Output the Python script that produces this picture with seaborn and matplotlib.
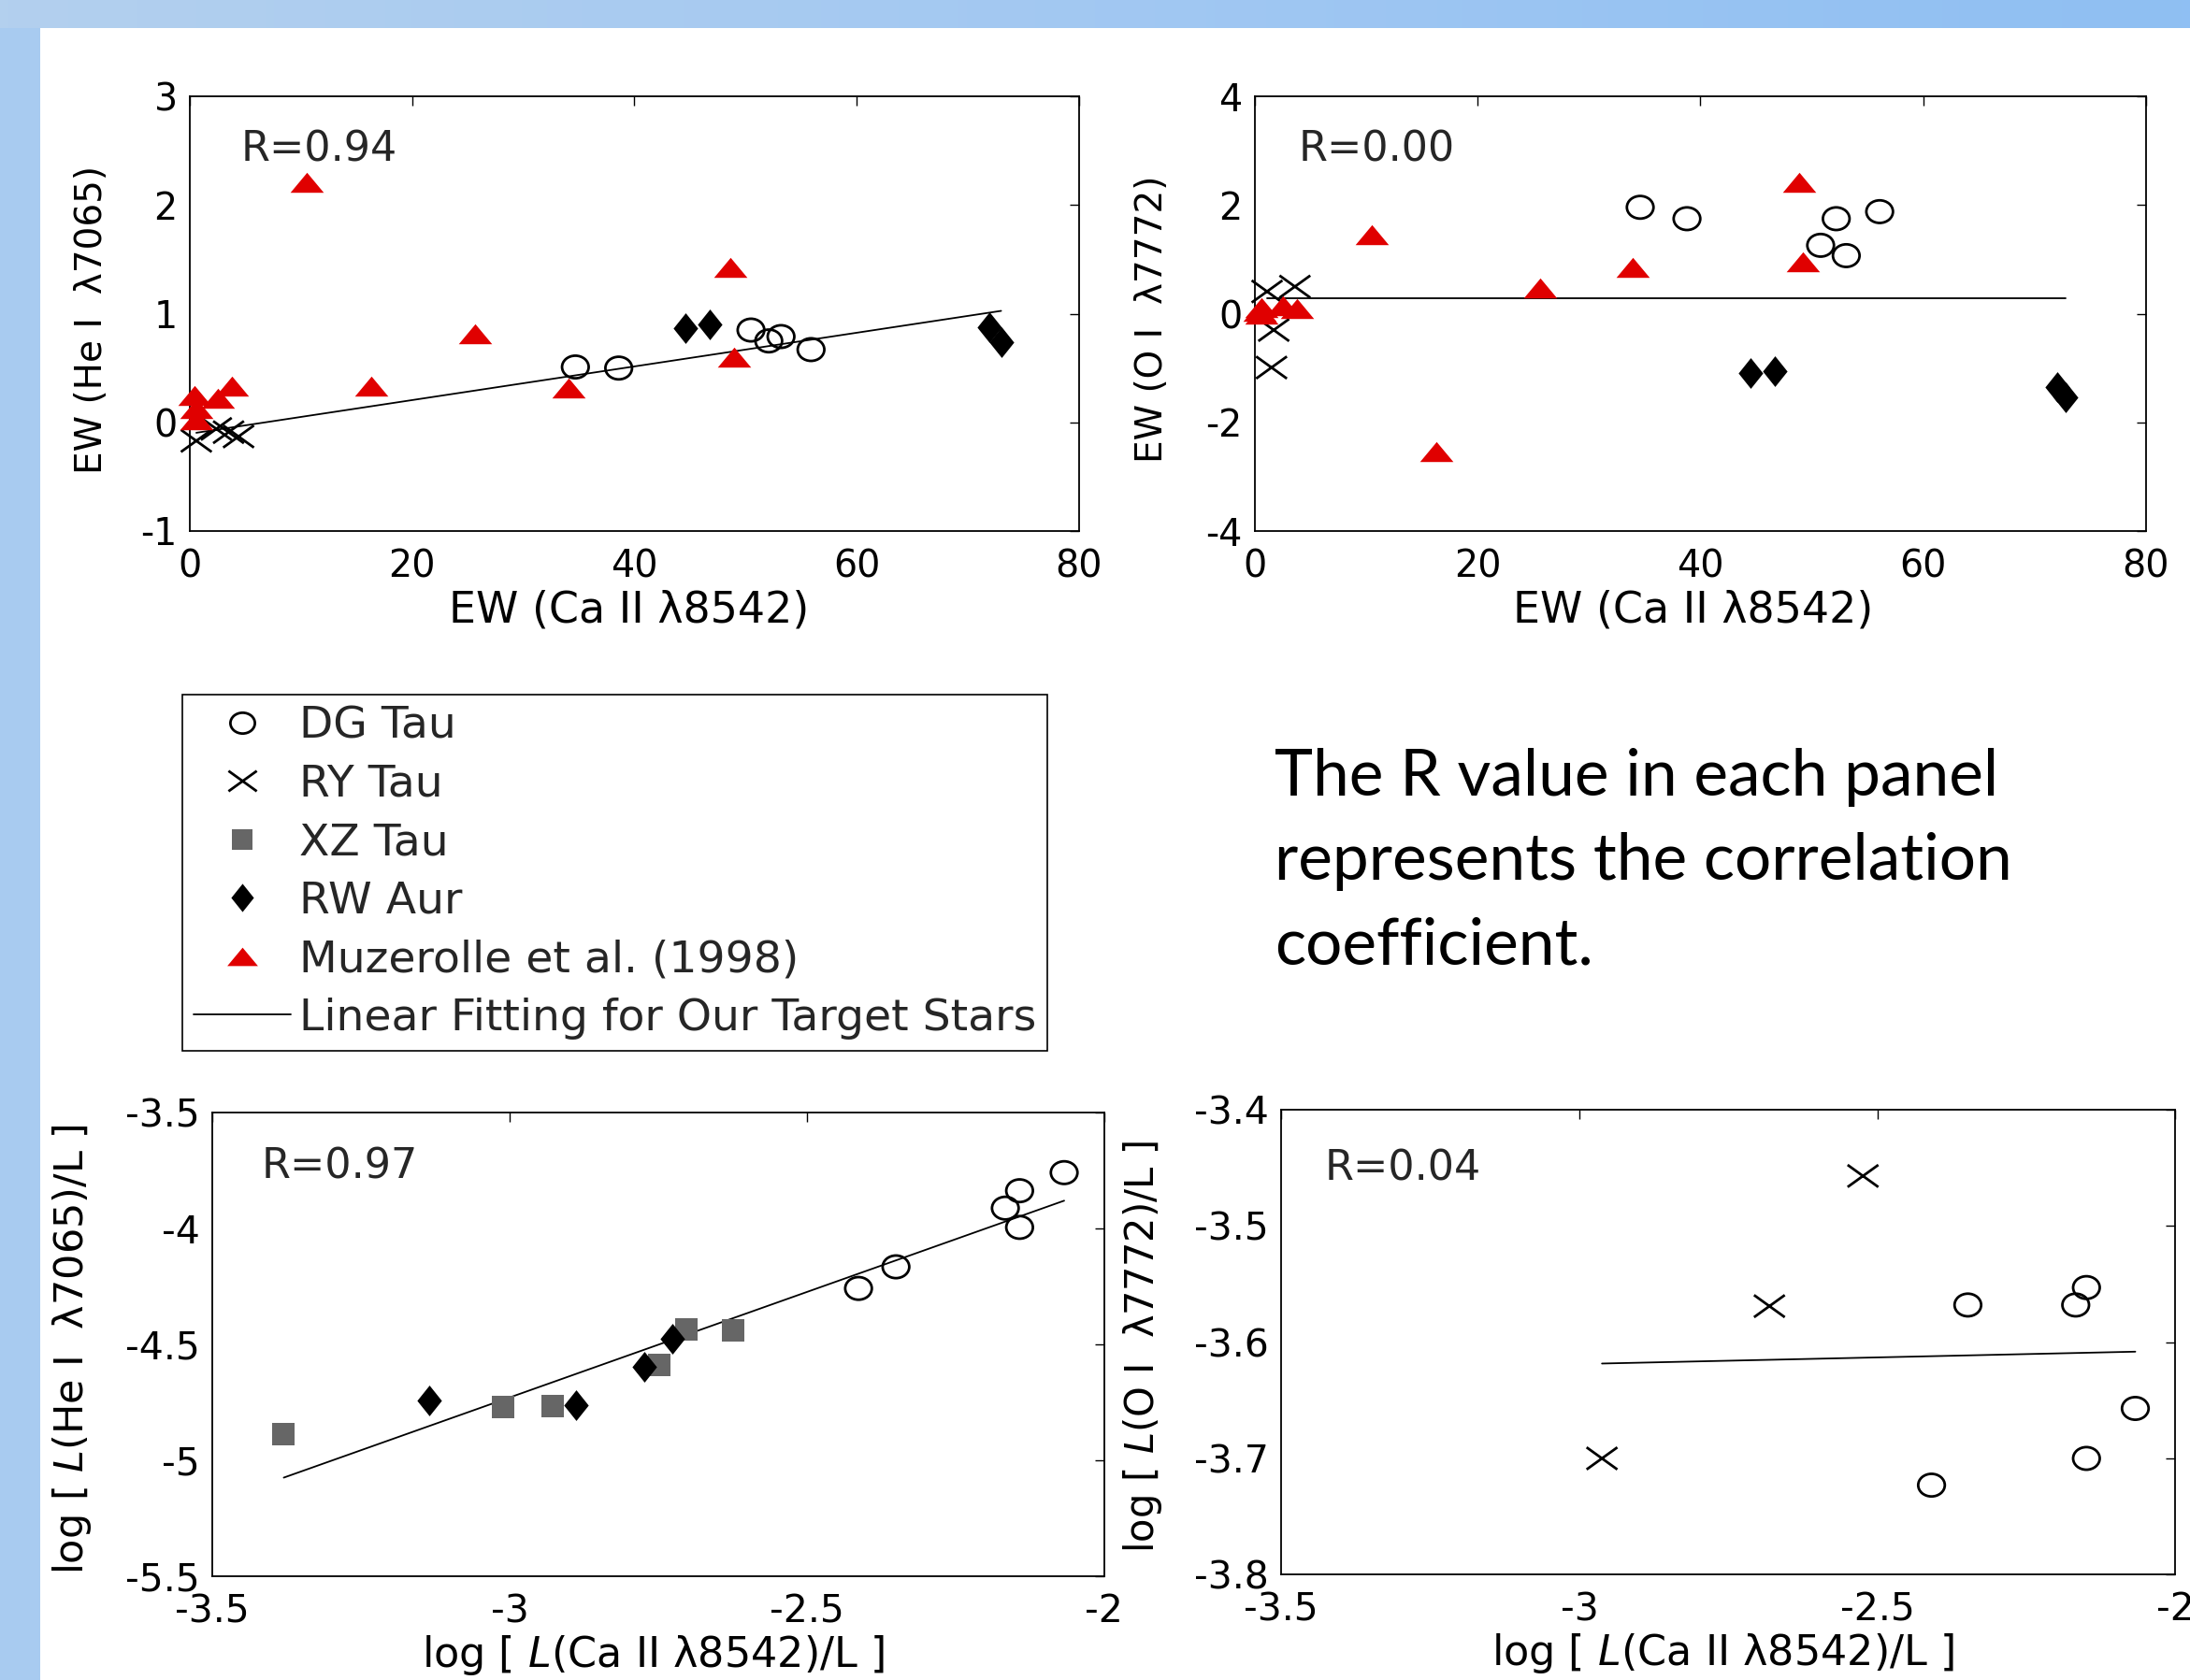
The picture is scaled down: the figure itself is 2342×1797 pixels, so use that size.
import numpy as np
import pandas as pd
import matplotlib.pyplot as plt
import seaborn as sns
from matplotlib.lines import Line2D
from matplotlib.path import Path

# ---- values ----
DG, RY, XZ, RW, MZ = "DG Tau", "RY Tau", "XZ Tau", "RW Aur", "Muzerolle et al. (1998)"

# panel 1: EW(He I 7065) vs EW(Ca II 8542)
p1_dg_x = [34.7, 38.6, 50.5, 52.1, 53.2, 55.9]
p1_dg_y = [0.51, 0.50, 0.85, 0.75, 0.79, 0.67]
p1_ry_x = [0.6, 2.4, 3.5, 4.4]
p1_ry_y = [-0.17, -0.06, -0.09, -0.13]
p1_rw_x = [44.6, 46.8, 71.9, 73.0]
p1_rw_y = [0.87, 0.90, 0.88, 0.74]
p1_mz_x = [0.4, 0.6, 0.6, 2.5, 3.8, 10.5, 16.3, 25.7, 34.1, 48.6, 49.0]
p1_mz_y = [0.25, 0.13, 0.02, 0.22, 0.33, 2.21, 0.33, 0.82, 0.32, 1.43, 0.60]
p1_fit = [0.0155, -0.105]

# panel 2: EW(O I 7772) vs EW(Ca II 8542)
p2_dg_x = [34.6, 38.8, 50.8, 52.2, 53.1, 56.1]
p2_dg_y = [1.96, 1.75, 1.26, 1.75, 1.07, 1.88]
p2_ry_x = [1.1, 1.5, 1.7, 3.6]
p2_ry_y = [0.41, -0.99, -0.30, 0.50]
p2_rw_x = [44.5, 46.7, 72.0, 72.8]
p2_rw_y = [-1.09, -1.05, -1.35, -1.54]
p2_mz_x = [0.4, 0.6, 0.6, 2.5, 3.8, 10.5, 16.3, 25.6, 33.9, 48.9, 49.2]
p2_mz_y = [0.05, 0.12, 0.00, 0.15, 0.10, 1.45, -2.54, 0.48, 0.85, 2.42, 0.96]
p2_fit = [0.0, 0.29]

# panel 3: log L(He I 7065) vs log L(Ca II 8542)
p3_dg_x = [-2.067, -2.142, -2.166, -2.142, -2.350, -2.413]
p3_dg_y = [-3.759, -3.837, -3.912, -3.995, -4.165, -4.258]
p3_xz_x = [-3.380, -3.011, -2.927, -2.748, -2.702, -2.624]
p3_xz_y = [-4.885, -4.768, -4.765, -4.586, -4.436, -4.439]
p3_rw_x = [-3.135, -2.888, -2.774, -2.726]
p3_rw_y = [-4.740, -4.763, -4.594, -4.474]
p3_fit = [0.909, -2.001]

# panel 4: log L(O I 7772) vs log L(Ca II 8542)
p4_dg_x = [-2.067, -2.149, -2.167, -2.149, -2.348, -2.409]
p4_dg_y = [-3.657, -3.553, -3.568, -3.700, -3.568, -3.723]
p4_ry_x = [-2.962, -2.681, -2.524]
p4_ry_y = [-3.700, -3.569, -3.457]
p4_fit = [0.0114, -3.5846]

r_values = ["R=0.94", "R=0.00", "R=0.97", "R=0.04"]

ew_ticks = [0, 20, 40, 60, 80]
p1_yticks = [-1, 0, 1, 2, 3]
p2_yticks = [-4, -2, 0, 2, 4]
log_xticks = [-3.5, -3.0, -2.5, -2.0]
log_xlabels = ["-3.5", "-3", "-2.5", "-2"]
p3_yticks = [-5.5, -5.0, -4.5, -4.0, -3.5]
p3_ylabels = ["-5.5", "-5", "-4.5", "-4", "-3.5"]
p4_yticks = [-3.8, -3.7, -3.6, -3.5, -3.4]
p4_ylabels = ["-3.8", "-3.7", "-3.6", "-3.5", "-3.4"]

note_lines = ["The R value in each panel", "represents the correlation", "coefficient."]


def frame(series):
    return pd.concat([pd.DataFrame({"x": x, "y": y, "star": s}) for s, x, y in series],
                     ignore_index=True)


panels = [
    frame([(DG, p1_dg_x, p1_dg_y), (RY, p1_ry_x, p1_ry_y), (RW, p1_rw_x, p1_rw_y), (MZ, p1_mz_x, p1_mz_y)]),
    frame([(DG, p2_dg_x, p2_dg_y), (RY, p2_ry_x, p2_ry_y), (RW, p2_rw_x, p2_rw_y), (MZ, p2_mz_x, p2_mz_y)]),
    frame([(DG, p3_dg_x, p3_dg_y), (XZ, p3_xz_x, p3_xz_y), (RW, p3_rw_x, p3_rw_y)]),
    frame([(DG, p4_dg_x, p4_dg_y), (RY, p4_ry_x, p4_ry_y)]),
]
fits = [p1_fit, p2_fit, p3_fit, p4_fit]

# ---- style ----
sns.set_theme(style="white")
plt.rcParams.update({
    "font.family": ["DejaVu Sans"],
    "axes.unicode_minus": False,
    "mathtext.fontset": "dejavusans",
    "axes.edgecolor": "black",
    "axes.linewidth": 1.3,
})

# marker shapes (the original figure is a bit stretched sideways)
circ = Path.unit_circle()
ring = Path(circ.vertices * [1.0, 0.85], circ.codes)
cross = Path([(-1, -0.72), (1, 0.72), (-1, 0.72), (1, -0.72)],
             [Path.MOVETO, Path.LINETO, Path.MOVETO, Path.LINETO])
tri = np.array([(-1, -0.6), (1, -0.6), (0, 0.6), (-1, -0.6)])
diam = np.array([(0, 1), (-0.8, 0), (0, -1), (0.8, 0), (0, 1)])

styles = {
    DG: dict(marker=ring, s=420, facecolor="none", edgecolor="black", linewidth=2.0),
    RY: dict(marker=cross, s=560, facecolor="none", edgecolor="black", linewidth=2.0),
    XZ: dict(marker="s", s=300, color="#666666", edgecolor="#666666", linewidth=0),
    RW: dict(marker=diam, s=560, color="black", edgecolor="black", linewidth=0),
    MZ: dict(marker=tri, s=660, color="#e00000", edgecolor="#e00000", linewidth=0),
}

W, H = 2342, 1797
fig = plt.figure(figsize=(W / 100, H / 100), dpi=100)
fig.patch.set_facecolor("white")

# blue slide border (top and left)
top = fig.add_axes([0, 1 - 30 / H, 1, 30 / H])
top.imshow(np.linspace(0, 1, 256)[None, :], aspect="auto",
           cmap=sns.blend_palette(["#b3d0ee", "#a2c8f2", "#8fbff3"], as_cmap=True))
top.axis("off")
left = fig.add_axes([0, 0, 43 / W, 1 - 30 / H])
left.set_facecolor("#a8cbf0")
left.set_xticks([])
left.set_yticks([])
for sp in left.spines.values():
    sp.set_visible(False)

# axes boxes in figure pixels: left, right, top, bottom
boxes = [(202.8, 1153.8, 103.2, 568.0), (1341.9, 2294.8, 103.2, 568.0),
         (227.2, 1180.6, 1190.0, 1686.4), (1370.3, 2326.2, 1187.0, 1684.3)]
axes = [fig.add_axes([l / W, 1 - b / H, (r - l) / W, (b - t) / H]) for l, r, t, b in boxes]

ew_x = "EW (Ca II λ8542)"
log_x = r"log [ $\mathit{L}$(Ca II λ8542)/L ]"
settings = [
    dict(xlim=(0, 80), ylim=(-1, 3), xt=ew_ticks, xl=None, yt=p1_yticks, yl=None,
         xlabel=ew_x, ylabel="EW (He I  λ7065)", lx=(0.494, -0.135), ly=(-0.090, 0.487),
         tsize=28.5, xsize=33, ysize=28, rpos=(0.058, 0.878)),
    dict(xlim=(0, 80), ylim=(-4, 4), xt=ew_ticks, xl=None, yt=p2_yticks, yl=None,
         xlabel=ew_x, ylabel="EW (O I  λ7772)", lx=(0.492, -0.135), ly=(-0.095, 0.487),
         tsize=28.5, xsize=33, ysize=28, rpos=(0.049, 0.878)),
    dict(xlim=(-3.5, -2), ylim=(-5.5, -3.5), xt=log_xticks, xl=log_xlabels, yt=p3_yticks, yl=p3_ylabels,
         xlabel=log_x, ylabel=r"log [ $\mathit{L}$(He I  λ7065)/L ]", lx=(0.494, -0.122), ly=(-0.133, 0.49),
         tsize=29.5, xsize=32, ysize=31, rpos=(0.055, 0.883)),
    dict(xlim=(-3.5, -2), ylim=(-3.8, -3.4), xt=log_xticks, xl=log_xlabels, yt=p4_yticks, yl=p4_ylabels,
         xlabel=log_x, ylabel=r"log [ $\mathit{L}$(O I  λ7772)/L ]", lx=(0.494, -0.122), ly=(-0.131, 0.49),
         tsize=29.5, xsize=32, ysize=30, rpos=(0.048, 0.874)),
]

for ax, df, fit, cfg, rtxt in zip(axes, panels, fits, settings, r_values):
    for star, g in df.groupby("star", sort=False):
        sns.scatterplot(data=g, x="x", y="y", ax=ax, legend=False, clip_on=False,
                        zorder=3, **styles[star])
    ours = df[df["star"] != MZ]
    fx = np.array([ours["x"].min(), ours["x"].max()])
    sns.lineplot(x=fx, y=fit[0] * fx + fit[1], ax=ax, color="black", linewidth=1.3,
                 estimator=None, sort=False, legend=False, zorder=2)

    ax.set_xlim(*cfg["xlim"])
    ax.set_ylim(*cfg["ylim"])
    if cfg["xl"] is None:
        ax.set_xticks(cfg["xt"])
    else:
        ax.set_xticks(cfg["xt"], cfg["xl"])
    if cfg["yl"] is None:
        ax.set_yticks(cfg["yt"])
    else:
        ax.set_yticks(cfg["yt"], cfg["yl"])
    ax.tick_params(axis="both", direction="in", length=7, width=1.0, top=True, right=True,
                   labelsize=cfg["tsize"], colors="black")
    ax.tick_params(axis="x", pad=13)
    ax.tick_params(axis="y", pad=9.5)
    ax.set_xlabel(cfg["xlabel"], fontsize=cfg["xsize"], color="black")
    ax.set_ylabel(cfg["ylabel"], fontsize=cfg["ysize"], color="black")
    ax.xaxis.set_label_coords(*cfg["lx"])
    ax.yaxis.set_label_coords(*cfg["ly"])
    ax.text(*cfg["rpos"], rtxt, transform=ax.transAxes, fontsize=32, va="center", ha="left")
    for sp in ax.spines.values():
        sp.set_visible(True)
        sp.set_color("black")

# legend box between the panels
handles = []
for star in [DG, RY, XZ, RW, MZ]:
    st = styles[star]
    fc = st.get("facecolor", st.get("color"))
    handles.append(Line2D([], [], linestyle="none", marker=st["marker"], markersize=np.sqrt(st["s"]) * 0.92,
                          markerfacecolor=fc, markeredgecolor=st["edgecolor"],
                          markeredgewidth=st["linewidth"]))
handles.append(Line2D([], [], color="black", linewidth=1.3))
labels = [DG, RY, XZ, RW, MZ, "Linear Fitting for Our Target Stars"]
leg = fig.legend(handles, labels, loc="upper left", bbox_to_anchor=(195 / W, 1 - 742.7 / H),
                 bbox_transform=fig.transFigure, fontsize=34, frameon=True, fancybox=False,
                 borderaxespad=0, borderpad=0.25, labelspacing=0.37, handlelength=2.2,
                 handletextpad=0.2, framealpha=1)
leg.get_frame().set_edgecolor("black")
leg.get_frame().set_linewidth(1.2)

# explanatory note
for i, line in enumerate(note_lines):
    fig.text(1363 / W, 1 - (851 + 90 * i) / H, line, family=["Lato", "DejaVu Sans"],
             fontsize=50, va="baseline", ha="left", color="black")

fig.savefig("out.png", dpi=100, facecolor=fig.get_facecolor())
